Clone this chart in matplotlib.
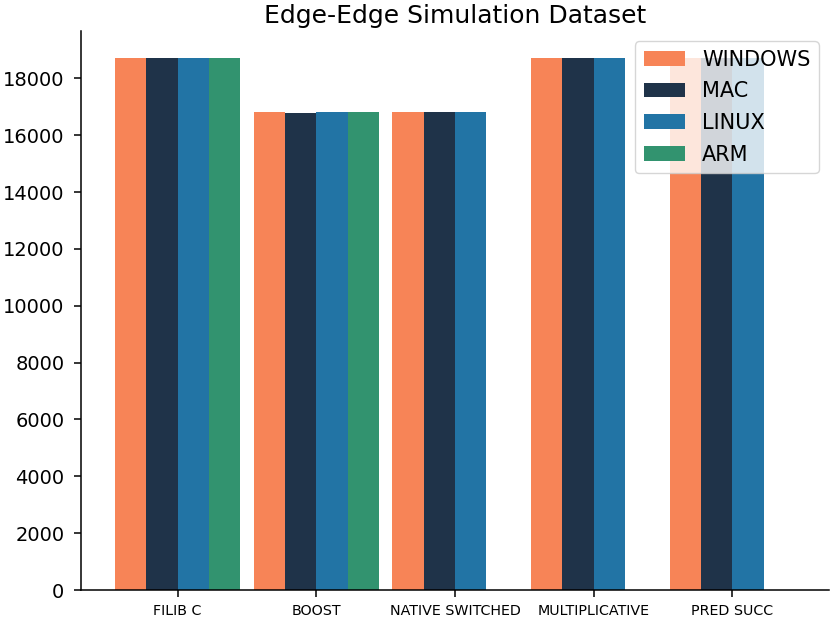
import matplotlib
matplotlib.use("Agg")
import matplotlib.pyplot as plt
import numpy as np

# data
categories = ["FILIB C", "BOOST", "NATIVE SWITCHED", "MULTIPLICATIVE", "PRED SUCC"]
windows = [18700, 16810, 16815, 18730, 18705]
mac = [18700, 16775, 16815, 18730, 18705]
linux = [18700, 16810, 16815, 18730, 18705]
arm = [18700, 16810, 0, 0, 0]
yticks = list(range(0, 18001, 2000))

series = [("WINDOWS", windows, "#f78457"),
          ("MAC", mac, "#1f3349"),
          ("LINUX", linux, "#2274a5"),
          ("ARM", arm, "#32936f")]

fig = plt.figure(figsize=(8.3, 6.19), dpi=100)
ax = fig.add_axes([81 / 830, 1 - 590 / 619, 748 / 830, 559 / 619])

x = np.arange(len(categories))
w = 0.226
for i, (name, vals, col) in enumerate(series):
    ax.bar(x + (i - 1.5) * w, vals, w, color=col, label=name, linewidth=0)

ax.set_xticks(x)
ax.set_xticklabels(categories, fontsize=10.3)
ax.set_yticks(yticks)
ax.tick_params(axis="y", labelsize=14, length=5, pad=7, width=1.1)
ax.tick_params(axis="x", length=5, pad=4.8, width=1.1)
ax.set_title("Edge-Edge Simulation Dataset", fontsize=18)
ax.spines["top"].set_visible(False)
ax.spines["right"].set_visible(False)
ax.spines["left"].set_linewidth(1.1)
ax.spines["bottom"].set_linewidth(1.1)
ax.legend(loc="upper right", fontsize=15, labelspacing=0.56)

plt.savefig("out.png", dpi=100)
